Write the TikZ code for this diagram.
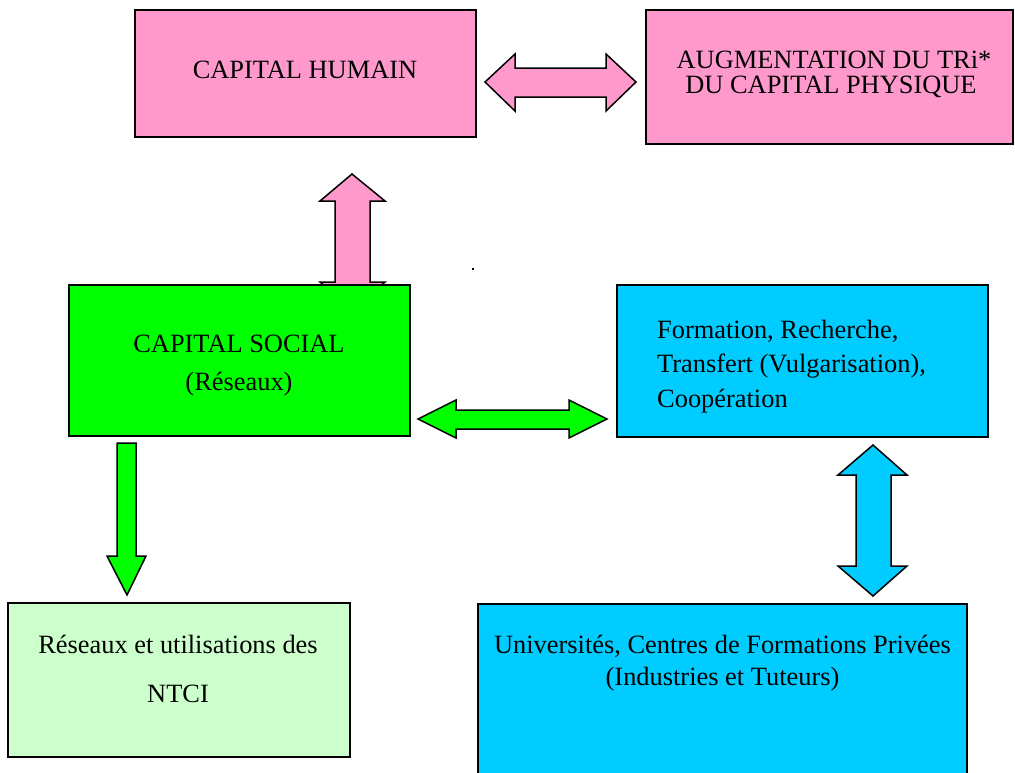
\documentclass[tikz,border=0pt]{standalone}
\usepackage{fontspec}
\setmainfont{Liberation Serif}
\definecolor{pinkc}{HTML}{FF99CC}
\definecolor{greenc}{HTML}{00FF00}
\definecolor{bluec}{HTML}{00CCFF}
\definecolor{lgreenc}{HTML}{CCFFCC}
\begin{document}
\begin{tikzpicture}[x=1pt,y=-1pt,
  box/.style={draw=black, line width=1.5pt, rectangle, inner sep=0pt},
  blockarrow/.style={draw=black, line width=1.5pt, line join=miter},
  txt/.style={font=\fontsize{26.4}{25}\selectfont, inner sep=0pt, anchor=base},
  mtxt/.style={font=\fontsize{26.4}{25}\selectfont, inner sep=0pt, align=center}]
\useasboundingbox (0,0) rectangle (1015,772);
\clip (0,0) rectangle (1015,772);
% pink up arrow (double arrow, lower head hidden by green box)
\draw[blockarrow, fill=pinkc] (352,174) -- (385,201) -- (370,201) -- (370,282) -- (385,282)
  -- (352,310) -- (320,282) -- (335,282) -- (335,201) -- (320,201) -- cycle;
% boxes
\node[box, fill=pinkc, minimum width=341pt, minimum height=127pt] (ch) at (305.5,73.5) {};
\node[box, fill=pinkc, minimum width=367pt, minimum height=134pt] (aug) at (829.5,77) {};
\node[box, fill=greenc, minimum width=341pt, minimum height=151pt] (cs) at (239.5,360.5) {};
\node[box, fill=bluec, minimum width=371pt, minimum height=152pt] (fr) at (802.5,361) {};
\node[box, fill=lgreenc, minimum width=342pt, minimum height=154pt] (rn) at (179,680) {};
\node[box, fill=bluec, minimum width=489pt, minimum height=200pt] (uc) at (722.5,704) {};
% texts
\node[txt] (chT) at (305,78) {CAPITAL HUMAIN};
\node[txt] (augT1) at (834,68) {AUGMENTATION DU TRi*};
\node[txt] (augT2) at (831,93) {DU CAPITAL PHYSIQUE};
\node[txt] (csT1) at (239,352) {CAPITAL SOCIAL};
\node[txt] (csT2) at (239,390) {(Réseaux)};
\node[txt, anchor=base west] (frT1) at (657,338) {Formation, Recherche,};
\node[txt, anchor=base west] (frT2) at (657,372) {Transfert (Vulgarisation),};
\node[txt, anchor=base west] (frT3) at (657,407) {Coopération};
\node[txt] (rnT1) at (178,653) {Réseaux et utilisations des};
\node[txt] (rnT2) at (178,702) {NTCI};
\node[txt] (ucT1) at (722.5,653) {Universités, Centres de Formations Privées};
\node[txt] (ucT2) at (722.5,685) {(Industries et Tuteurs)};
% pink horizontal double arrow
\draw[blockarrow, fill=pinkc] (485,82) -- (515,54) -- (515,68) -- (606,68) -- (606,54) -- (636,82)
  -- (606,111) -- (606,97) -- (515,97) -- (515,111) -- cycle;
% green horizontal double arrow
\draw[blockarrow, fill=greenc] (418,419) -- (456,400) -- (456,410) -- (569,410) -- (569,400) -- (607,419)
  -- (569,438) -- (569,429) -- (456,429) -- (456,438) -- cycle;
% blue vertical double arrow
\draw[blockarrow, fill=bluec] (873,445) -- (907,475) -- (891,475) -- (891,566) -- (907,566) -- (873,596)
  -- (838,566) -- (856,566) -- (856,475) -- (838,475) -- cycle;
% green down arrow
\draw[blockarrow, fill=greenc] (117,443) -- (136,443) -- (136,556) -- (146,556) -- (127,595)
  -- (107,556) -- (117,556) -- cycle;
% tiny dot
\fill[black] (472,268) rectangle (474,270);
\end{tikzpicture}
\end{document}
